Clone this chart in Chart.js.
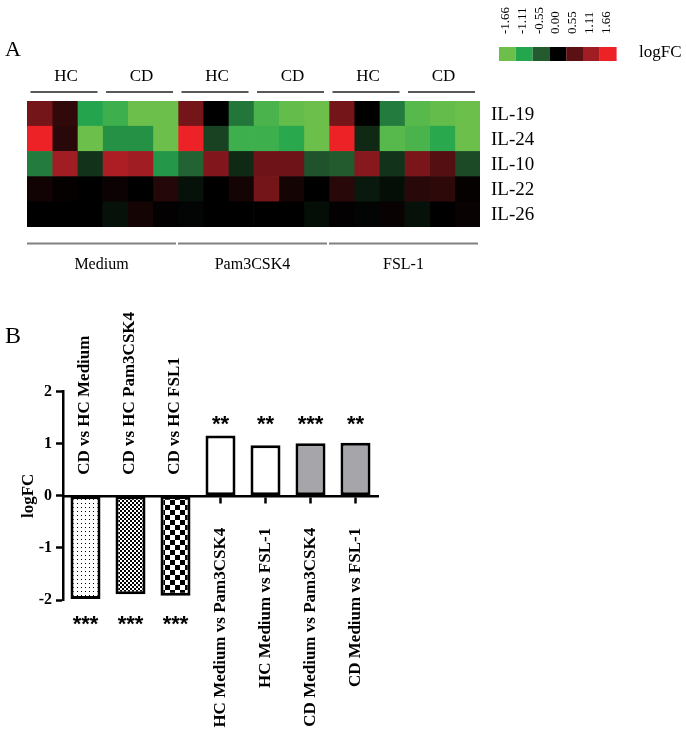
<!DOCTYPE html>
<html>
<head>
<meta charset="utf-8">
<script src="https://cdn.jsdelivr.net/npm/chart.js@4"></script>
<style>
  body { margin: 0; background: #fff; }
  #wrap { position: relative; width: 686px; height: 746px; }
  #heat { position: absolute; left: 0; top: 0; }
  #bars { position: absolute; left: 0; top: 290px; }
</style>
</head>
<body>
<div id="wrap">
  <canvas id="heat" width="686" height="290"></canvas>
  <canvas id="bars" width="686" height="456"></canvas>
</div>
<script>
// ---- panel A data ----
const genes = ['IL-19', 'IL-24', 'IL-10', 'IL-22', 'IL-26'];
const groups = ['HC', 'CD', 'HC', 'CD', 'HC', 'CD'];
const stimuli = ['Medium', 'Pam3CSK4', 'FSL-1'];
const il19 = [0.75, 0.3, -1.1, -1.3, -1.66, -1.66, 0.75, 0, -0.75, -1.4, -1.6, -1.66, 0.75, 0, -0.8, -1.5, -1.6, -1.66];
const il24 = [1.66, 0.25, -1.66, -0.95, -0.95, -1.66, 1.66, -0.4, -1.3, -1.3, -1.15, -1.66, 1.66, -0.25, -1.5, -1.4, -1.15, -1.66];
const il10 = [-0.8, 1.11, -0.3, 1.2, 1.11, -1.0, -0.6, 0.85, -0.25, 0.7, 0.7, -0.5, -0.55, 0.9, -0.3, 0.8, 0.5, -0.45];
const il22 = [0.1, 0.03, 0, 0.08, 0, 0.22, -0.1, 0, 0.12, 0.75, 0.12, 0, 0.25, -0.15, -0.08, 0.25, 0.28, 0.03];
const il26 = [0, 0, 0, -0.1, 0.12, 0.02, -0.03, 0, 0, 0, 0, -0.08, 0.02, -0.03, 0.05, -0.1, 0, 0.05];
const heatValues = [il19, il24, il10, il22, il26];
const scaleTicks = [-1.66, -1.11, -0.55, 0, 0.55, 1.11, 1.66];
const scaleColors = ['#6cbf4a', '#24a64e', '#235b2f', '#000000', '#5b1114', '#a11d24', '#ed2227'];

// ---- panel B data ----
const comparisons = ['CD vs HC Medium', 'CD vs HC Pam3CSK4', 'CD vs HC FSL1',
  'HC Medium vs Pam3CSK4', 'HC Medium vs FSL-1', 'CD Medium vs Pam3CSK4', 'CD Medium vs FSL-1'];
const logFC = [-1.98, -1.89, -1.92, 1.16, 0.97, 1.01, 1.02];
const stars = ['***', '***', '***', '**', '**', '***', '**'];
const yTicks = [-2, -1, 0, 1, 2];

const SERIF = "'Liberation Serif', 'Times New Roman', serif";
Chart.defaults.font.family = SERIF;
Chart.defaults.color = '#000';

function hexToRgb(h) {
  return [parseInt(h.slice(1, 3), 16), parseInt(h.slice(3, 5), 16), parseInt(h.slice(5, 7), 16)];
}

function colorFor(v) {
  if (v <= scaleTicks[0]) return scaleColors[0];
  if (v >= scaleTicks[scaleTicks.length - 1]) return scaleColors[scaleColors.length - 1];
  for (let i = 0; i < scaleTicks.length - 1; i++) {
    if (v >= scaleTicks[i] && v <= scaleTicks[i + 1]) {
      const t = (v - scaleTicks[i]) / (scaleTicks[i + 1] - scaleTicks[i]);
      const a = hexToRgb(scaleColors[i]), b = hexToRgb(scaleColors[i + 1]);
      const c = a.map((ch, k) => Math.round(ch + (b[k] - ch) * t));
      return `rgb(${c[0]},${c[1]},${c[2]})`;
    }
  }
  return '#000';
}

// one floating-bar dataset per column of the heatmap
const heatDatasets = il19.map((_, c) => ({
  data: genes.map(() => [c, c + 1]),
  backgroundColor: genes.map((g, r) => colorFor(heatValues[r][c])),
  borderWidth: 0,
  barPercentage: 1,
  categoryPercentage: 1,
  grouped: false
}));

const heatLabels = {
  id: 'heatLabels',
  afterDraw(chart) {
    const { ctx, scales: { x, y } } = chart;
    ctx.save();
    ctx.fillStyle = '#000';
    ctx.textBaseline = 'middle';
    ctx.font = `22px ${SERIF}`;
    ctx.fillText('A', 5, 50);

    // HC / CD over each group of three columns
    ctx.font = `17px ${SERIF}`;
    ctx.textAlign = 'center';
    ctx.strokeStyle = '#222';
    ctx.lineWidth = 1.5;
    groups.forEach((g, i) => {
      const x0 = x.getPixelForValue(i * 3) + 3.5;
      const x1 = x.getPixelForValue(i * 3 + 3) - 5;
      ctx.beginPath(); ctx.moveTo(x0, 92); ctx.lineTo(x1, 92); ctx.stroke();
      ctx.fillText(g, (x0 + x1) / 2 + 2, 77);
    });

    // stimulus labels below
    ctx.strokeStyle = '#808080';
    ctx.lineWidth = 2;
    ctx.font = `16px ${SERIF}`;
    stimuli.forEach((s, i) => {
      const x0 = x.getPixelForValue(i * 6);
      const x1 = x.getPixelForValue(i * 6 + 6) - 2;
      ctx.beginPath(); ctx.moveTo(x0, 243.5); ctx.lineTo(x1, 243.5); ctx.stroke();
      ctx.fillText(s, (x0 + x1) / 2, 265);
    });

    // gene names on the right
    ctx.textAlign = 'left';
    ctx.font = `19px ${SERIF}`;
    genes.forEach((g, r) => ctx.fillText(g, x.right + 11, y.getPixelForValue(r) + 1));

    // colour key
    const kx = 499, kw = 16.8;
    scaleTicks.forEach((t, i) => {
      ctx.fillStyle = scaleColors[i];
      ctx.fillRect(kx + i * kw, 47, kw, 14);
      ctx.save();
      ctx.translate(kx + i * kw + 6.5, 34);
      ctx.rotate(-Math.PI / 2);
      ctx.fillStyle = '#000';
      ctx.textAlign = 'left';
      ctx.font = `13px ${SERIF}`;
      ctx.fillText(t.toFixed(2), 0, 0);
      ctx.restore();
    });
    ctx.fillStyle = '#000';
    ctx.font = `17px ${SERIF}`;
    ctx.fillText('logFC', 639, 53);
    ctx.restore();
  }
};

new Chart(document.getElementById('heat'), {
  type: 'bar',
  data: { labels: genes, datasets: heatDatasets },
  options: {
    indexAxis: 'y',
    responsive: false,
    animation: false,
    layout: { padding: { left: 27, right: 206, top: 101, bottom: 63 } },
    plugins: { legend: { display: false }, tooltip: { enabled: false } },
    scales: {
      x: { type: 'linear', min: 0, max: il19.length, display: false },
      y: { type: 'category', display: false }
    }
  },
  plugins: [heatLabels]
});

// ---- panel B ----
const barCtx = document.getElementById('bars').getContext('2d');

function makePattern(size, draw) {
  const c = document.createElement('canvas');
  c.width = c.height = size;
  const g = c.getContext('2d');
  g.fillStyle = '#fff';
  g.fillRect(0, 0, size, size);
  g.fillStyle = '#000';
  draw(g);
  return barCtx.createPattern(c, 'repeat');
}

const dotFill = makePattern(4, g => g.fillRect(1, 1, 1, 1));
const fineFill = makePattern(4, g => { g.fillRect(0, 0, 2, 2); g.fillRect(2, 2, 2, 2); });
const checkFill = makePattern(10, g => { g.fillRect(0, 0, 5, 5); g.fillRect(5, 5, 5, 5); });
const barFills = [dotFill, fineFill, checkFill, '#ffffff', '#ffffff', '#a6a6aa', '#a6a6aa'];

const barNotes = {
  id: 'barNotes',
  afterDraw(chart) {
    const { ctx, scales: { x, y } } = chart;
    ctx.save();
    ctx.fillStyle = '#000';
    ctx.textBaseline = 'middle';
    ctx.textAlign = 'left';
    ctx.font = `24px ${SERIF}`;
    ctx.fillText('B', 5, 47);

    // labels of the negative bars sit above the zero line
    ctx.font = `bold 17px ${SERIF}`;
    logFC.forEach((v, i) => {
      if (v >= 0) return;
      ctx.save();
      ctx.translate(x.getPixelForValue(i) - 1, y.getPixelForValue(0) - 21);
      ctx.rotate(-Math.PI / 2);
      ctx.fillText(comparisons[i], 0, 0);
      ctx.restore();
    });

    // significance stars
    ctx.textAlign = 'center';
    ctx.textBaseline = 'alphabetic';
    ctx.font = "bold 22px 'Liberation Sans', Arial, sans-serif";
    logFC.forEach((v, i) => {
      const yy = v < 0 ? y.getPixelForValue(-2.59) : y.getPixelForValue(1.25);
      ctx.fillText(stars[i], x.getPixelForValue(i), yy);
    });
    ctx.restore();
  }
};

new Chart(barCtx, {
  type: 'bar',
  data: {
    labels: comparisons,
    datasets: [{
      data: logFC,
      backgroundColor: barFills,
      borderColor: '#000',
      borderWidth: 3,
      borderSkipped: false,
      barPercentage: 0.667,
      categoryPercentage: 1
    }]
  },
  options: {
    responsive: false,
    animation: false,
    layout: { padding: { left: 0, right: 308, top: 101.7, bottom: 146 } },
    plugins: { legend: { display: false }, tooltip: { enabled: false } },
    scales: {
      x: {
        position: { y: 0 },
        offset: true,
        grid: { offset: false, drawOnChartArea: false, tickLength: 6, tickWidth: 2.5, color: '#000' },
        border: { width: 2.5, color: '#000' },
        ticks: {
          autoSkip: false,
          minRotation: 90,
          maxRotation: 90,
          padding: 26,
          font: { weight: 'bold', size: 17 },
          callback: (val, i) => (logFC[i] < 0 ? '' : comparisons[i])
        }
      },
      y: {
        min: yTicks[0],
        max: yTicks[yTicks.length - 1],
        afterBuildTicks: s => { s.ticks = yTicks.map(v => ({ value: v })); },
        afterFit: s => { s.width = 63; },
        grid: { drawOnChartArea: false, tickLength: 7, tickWidth: 2.5, color: '#000' },
        border: { width: 2.5, color: '#000' },
        ticks: { padding: 4, font: { weight: 'bold', size: 16 } },
        title: { display: true, text: 'logFC', font: { weight: 'bold', size: 17 }, padding: { top: 18, bottom: 0 } }
      }
    }
  },
  plugins: [barNotes]
});
</script>
</body>
</html>
